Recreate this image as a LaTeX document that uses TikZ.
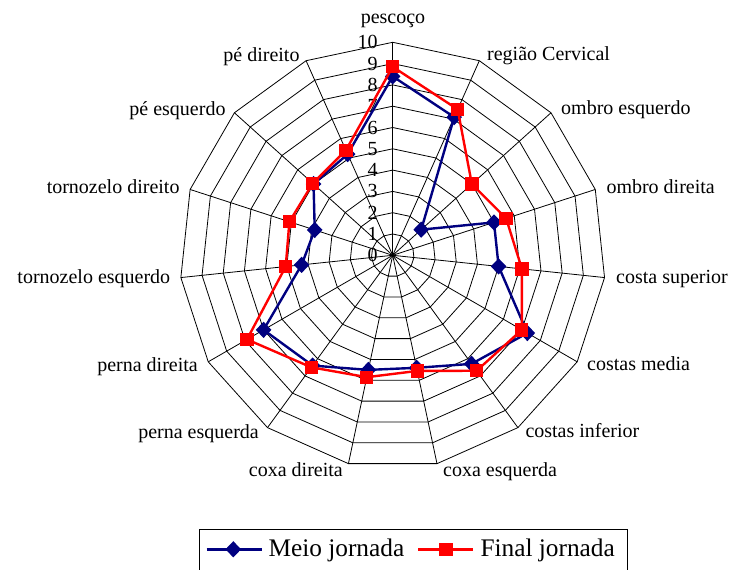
\documentclass[tikz,border=0pt]{standalone}
\usepackage{fontspec}
\setmainfont{Liberation Serif}
\usetikzlibrary{shapes.geometric}

\definecolor{meioblue}{RGB}{0,0,128}
\definecolor{finalred}{RGB}{255,0,0}

\tikzset{every picture/.style={line width=0.75pt}}
\tikzset{
  gridline/.style={line width=0.6pt, color=black},
  meioline/.style={line width=1.8pt, color=meioblue, line join=round},
  finalline/.style={line width=1.8pt, color=finalred, line join=round},
  meiomark/.style={diamond, fill=meioblue, inner sep=0pt, minimum width=12pt, minimum height=12.5pt},
  finalmark/.style={rectangle, fill=finalred, inner sep=0pt, minimum size=10pt},
  catlabel/.style={font=\fontsize{15}{18}\selectfont, inner sep=0pt},
  scalelabel/.style={font=\fontsize{15}{18}\selectfont, inner sep=0pt, anchor=east},
  legfont/.style={font=\fontsize{19}{22}\selectfont, inner sep=0pt},
}

\begin{document}
\begin{tikzpicture}[x=0.75pt,y=0.75pt,yscale=-1,xscale=1]
        \useasboundingbox (0,0) rectangle (731,570);
        \def\cx{392.7}
        \def\cy{255.3}
        \def\ur{21.3}
        \coordinate (o) at (\cx,\cy);

        % Rings
        \foreach \k in {1,...,10}
          \draw [gridline] plot [samples=16, domain=0:15] ({\cx+\k*\ur*cos(90-24*\x)},{\cy-\k*\ur*sin(90-24*\x)}) -- cycle;

        % Spokes
        \foreach \i in {0,...,14}
          \draw [gridline] (o) -- ({\cx+10*\ur*cos(90-24*\i)},{\cy-10*\ur*sin(90-24*\i)});

        % Scale
        \foreach \k in {0,...,10}
          \draw (378,{\cy-\k*\ur}) node (s\k) [scalelabel] {\k};

        % Categories
        \draw (393,24) node (pescoco) [catlabel, anchor=base] {pescoço};
        \draw (486.7,61) node (cervical) [catlabel, anchor=base west] {região Cervical};
        \draw (560.7,115) node (ombroesq) [catlabel, anchor=base west] {ombro esquerdo};
        \draw (606,193.3) node (ombrodir) [catlabel, anchor=base west] {ombro direita};
        \draw (615.7,283.3) node (costasup) [catlabel, anchor=base west] {costa superior};
        \draw (586.7,370.7) node (costamed) [catlabel, anchor=base west] {costas media};
        \draw (525,437.3) node (costainf) [catlabel, anchor=base west] {costas inferior};
        \draw (442.7,476) node (coxaesq) [catlabel, anchor=base west] {coxa esquerda};
        \draw (343.3,476) node (coxadir) [catlabel, anchor=base east] {coxa direita};
        \draw (259.3,438.3) node (pernaesq) [catlabel, anchor=base east] {perna esquerda};
        \draw (198.3,371.5) node (pernadir) [catlabel, anchor=base east] {perna direita};
        \draw (170.7,283.3) node (tornesq) [catlabel, anchor=base east] {tornozelo esquerdo};
        \draw (180,193.3) node (torndir) [catlabel, anchor=base east] {tornozelo direito};
        \draw (226,116) node (peesq) [catlabel, anchor=base east] {pé esquerdo};
        \draw (300,61.7) node (pedir) [catlabel, anchor=base east] {pé direito};

        % Meio jornada
        \foreach \v [count=\i from 0] in {8.4,7.1,1.8,5.0,5.0,7.3,6.3,5.4,5.5,6.4,7.0,4.3,3.85,5.0,5.2}
          \coordinate (m\i) at ({\cx+\v*\ur*cos(90-24*\i)},{\cy-\v*\ur*sin(90-24*\i)});
        \draw [meioline] (m0) -- (m1) -- (m2) -- (m3) -- (m4) -- (m5) -- (m6) -- (m7) -- (m8) -- (m9) -- (m10) -- (m11) -- (m12) -- (m13) -- (m14) -- cycle;
        \foreach \i in {0,...,14}
          \node (mk\i) [meiomark] at (m\i) {};

        % Final jornada
        \foreach \v [count=\i from 0] in {8.85,7.5,5.0,5.6,6.1,7.0,6.7,5.55,5.85,6.5,7.9,5.05,5.1,5.05,5.4}
          \coordinate (f\i) at ({\cx+\v*\ur*cos(90-24*\i)},{\cy-\v*\ur*sin(90-24*\i)});
        \draw [finalline] (f0) -- (f1) -- (f2) -- (f3) -- (f4) -- (f5) -- (f6) -- (f7) -- (f8) -- (f9) -- (f10) -- (f11) -- (f12) -- (f13) -- (f14) -- cycle;
        \foreach \i in {0,...,14}
          \node (fk\i) [finalmark] at (f\i) {};

        % Legend
        \draw [gridline] (199,529.3) rectangle (627.3,580);
        \coordinate (lgA1) at (206.7,549.3);
        \coordinate (lgA2) at (261.7,549.3);
        \draw [meioline] (lgA1) -- (lgA2);
        \node (lgAmark) [meiomark] at (233.3,549.3) {};
        \draw (268,556.7) node (lgAtext) [legfont, anchor=base west] {Meio jornada};
        \coordinate (lgB1) at (418.3,549.3);
        \coordinate (lgB2) at (473.3,549.3);
        \draw [finalline] (lgB1) -- (lgB2);
        \node (lgBmark) [finalmark] at (446,549.3) {};
        \draw (480,556.7) node (lgBtext) [legfont, anchor=base west] {Final jornada};

\end{tikzpicture}
\end{document}
